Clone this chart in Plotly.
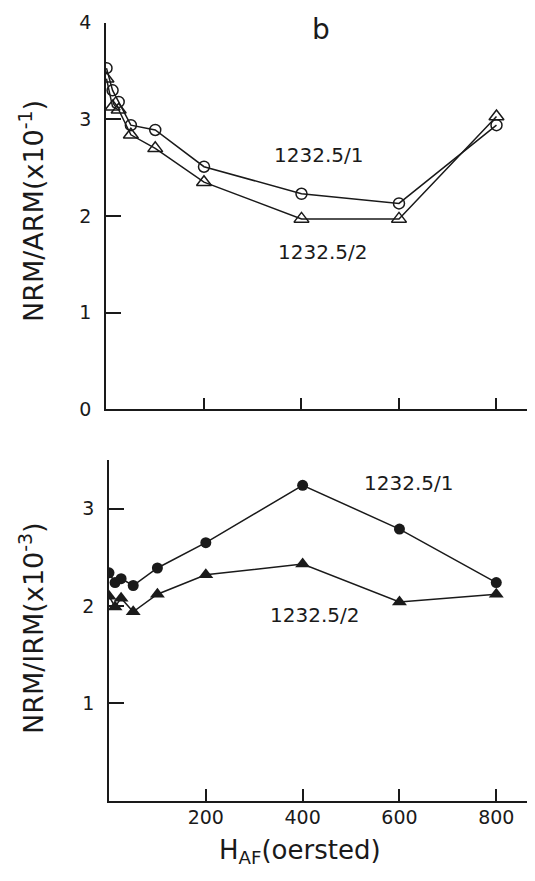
import plotly.graph_objects as go

# ---- data ----
h_af = [0, 12.5, 25, 50, 100, 200, 400, 600, 800]

arm_s1 = [3.53, 3.30, 3.18, 2.94, 2.89, 2.51, 2.23, 2.13, 2.94]   # 1232.5/1 (open circles)
arm_s2 = [3.42, 3.13, 3.10, 2.84, 2.70, 2.35, 1.97, 1.97, 3.03]   # 1232.5/2 (open triangles)

irm_s1 = [2.34, 2.24, 2.28, 2.21, 2.39, 2.65, 3.24, 2.79, 2.24]   # 1232.5/1 (filled circles)
irm_s2 = [2.10, 1.99, 2.08, 1.94, 2.12, 2.32, 2.43, 2.04, 2.12]   # 1232.5/2 (filled triangles)

x_ticks = [200, 400, 600, 800]
top_y_ticks = [0, 1, 2, 3, 4]
bot_y_ticks = [1, 2, 3]

# figure is inset by the 8px page margin so that it fits the 535x881 window
OFF = 8
W, H = 535 - 2 * OFF, 881 - 2 * OFF
FONT = "DejaVu Sans"
INK = "#1a1a1a"

def px(x):
    return (x - OFF) / W

def py(y):
    return 1 - (y - OFF) / H

fig = go.Figure()

line = dict(color=INK, width=1.5)

fig.add_trace(go.Scatter(x=h_af, y=arm_s1, mode="lines+markers", line=line,
                         marker=dict(symbol="circle-open", size=11, color=INK, line=dict(width=1.5)),
                         xaxis="x", yaxis="y", showlegend=False))
fig.add_trace(go.Scatter(x=h_af, y=arm_s2, mode="lines+markers", line=line,
                         marker=dict(symbol="triangle-up-open", size=13, color=INK, line=dict(width=1.5)),
                         xaxis="x", yaxis="y", showlegend=False))
fig.add_trace(go.Scatter(x=h_af, y=irm_s1, mode="lines+markers", line=line,
                         marker=dict(symbol="circle", size=11, color=INK),
                         xaxis="x2", yaxis="y2", showlegend=False))
fig.add_trace(go.Scatter(x=h_af, y=irm_s2, mode="lines+markers", line=line,
                         marker=dict(symbol="triangle-up", size=13, color=INK),
                         xaxis="x2", yaxis="y2", showlegend=False))

axis_common = dict(showgrid=False, zeroline=False, showline=True, linecolor=INK, linewidth=1.5,
                   ticks="inside", tickcolor=INK, tickwidth=1.5, automargin=False,
                   tickfont=dict(family=FONT, size=19, color=INK))

fig.update_layout(
    template="none",
    width=W, height=H,
    margin=dict(l=0, r=0, t=0, b=0, autoexpand=False),
    paper_bgcolor="white", plot_bgcolor="white",
    showlegend=False,
    xaxis=dict(domain=[px(106), 1], range=[-1, 879 - 8 / 0.4875], tickvals=x_ticks, showticklabels=False,
               ticklen=12, anchor="y", **axis_common),
    yaxis=dict(domain=[py(409.3), py(22.7)], range=[0, 4], tickvals=top_y_ticks,
               ticktext=[str(v) for v in top_y_ticks], ticklen=15, ticklabelstandoff=9,
               anchor="x", **axis_common),
    xaxis2=dict(domain=[px(109), 1], range=[0, 880 - 8 / 0.484], tickvals=x_ticks,
                ticktext=[str(v) for v in x_ticks], ticklen=12, ticklabelstandoff=-1,
                anchor="y2", **axis_common),
    yaxis2=dict(domain=[py(800.5), py(460)], range=[0, 3.5], tickvals=bot_y_ticks,
                ticktext=[str(v) for v in bot_y_ticks], ticklen=15, ticklabelstandoff=9,
                anchor="x2", **axis_common),
)

def ann(text, x, y, size, angle=0):
    fig.add_annotation(text=text, x=px(x), y=py(y), xref="paper", yref="paper",
                       showarrow=False, textangle=angle, xanchor="center", yanchor="middle",
                       font=dict(family=FONT, size=size, color=INK))

ann("b", 321, 30, 28)
ann("1232.5/1", 318, 155, 20)
ann("1232.5/2", 322, 252, 20)
ann("1232.5/1", 408, 483, 20)
ann("1232.5/2", 315, 615, 20)
ann("NRM/ARM(x10<sup>-1</sup>)", 31, 211, 27, -90)
ann("NRM/IRM(x10<sup>-3</sup>)", 31, 628, 27, -90)
ann("H<sub>AF</sub>(oersted)", 300, 851, 26)

fig.write_html("out.html")
